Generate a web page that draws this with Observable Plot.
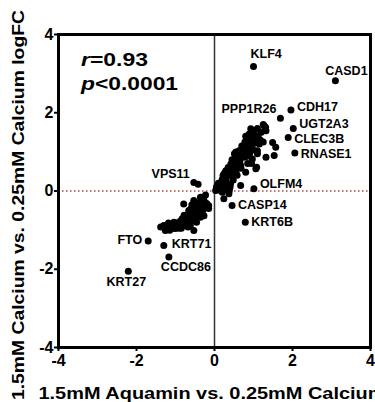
<!DOCTYPE html>
<html>
<head>
<meta charset="utf-8">
<script src="https://cdn.jsdelivr.net/npm/d3@7"></script>
<script src="https://cdn.jsdelivr.net/npm/@observablehq/plot@0.6"></script>
<style>
  html, body { margin: 0; padding: 0; background: #fff; overflow: hidden; }
  #chart svg g[aria-label="x-axis tick"],
  #chart svg g[aria-label="y-axis tick"] { stroke-width: 2; }
</style>
</head>
<body>
<div id="chart"></div>
<script>
// Labelled genes
const genes = ["KLF4","CASD1","CDH17","PPP1R26","UGT2A3","CLEC3B","RNASE1","OLFM4","VPS11","CASP14","KRT6B","FTO","KRT71","CCDC86","KRT27"];
const geneX = [1.00, 3.10, 1.96, 1.69, 2.02, 1.89, 2.06, 1.01, -0.53, 0.45, 0.79, -1.70, -1.30, -1.17, -2.21];
const geneY = [3.18, 2.82, 2.07, 1.86, 1.60, 1.37, 0.97, 0.06, 0.22, -0.37, -0.80, -1.28, -1.39, -1.69, -2.05];

// Unlabelled genes (x: Aquamin logFC, y: Calcium logFC)
const otherX = [
  -0.42,
  -0.79,-0.53,-0.36,-0.27,-0.15,-0.44,-0.27,-0.62,-0.83,-0.70,-0.92,-1.04,-1.13,-1.30,-1.38,-1.26,-1.00,-0.79,-0.53,-0.57,-0.36,-0.44,-0.23,-0.15,
  -0.60,-0.70,-0.88,-1.08,-0.95,-0.85,-0.65,-0.50,-0.40,-0.32,-0.20,-1.20,-0.75,-0.62,-0.48,-0.55,-0.72,-0.97,-1.15,-0.90,-0.58,-0.66,-0.38,-0.46,-0.78,-1.22,
  -0.30,-0.42,-0.52,-0.68,-0.88,-1.05,-1.18,-0.25,-0.58,-0.80,
  1.27,1.32,0.93,0.89,1.06,1.49,1.57,0.97,0.89,1.10,0.63,0.51,0.76,0.97,1.32,1.53,0.42,0.67,1.06,0.29,0.55,0.80,0.25,0.46,0.16,0.33,0.67,0.12,0.38,0.03,0.20,0.41,0.15,0.37,0.24,1.08,1.31,1.25,
  0.20,0.30,0.35,0.50,0.55,0.60,0.70,0.75,0.80,0.85,0.95,1.00,1.05,1.15,1.20,0.70,0.78,0.45,0.30,0.10,0.40,0.65,0.90,1.10,0.85,0.22,1.00,1.10,0.80,0.55,0.05,0.25,0.50,
  0.08,0.18,0.28,0.30,0.36,0.45,0.52,0.62,0.72,0.78,0.88,0.92,1.02,1.12,1.18,0.68,0.58,0.48,0.40,0.30,0.82,0.95,1.25,0.86,0.95
];
const otherY = [
  0.17,
  -0.33,-0.24,-0.16,-0.24,-0.45,-0.50,-0.63,-0.58,-0.71,-0.80,-0.84,-0.80,-0.88,-0.88,-0.92,-1.01,-0.96,-0.88,-1.01,-0.71,-0.67,-0.37,-0.10,-0.37,
  -0.45,-0.62,-0.77,-0.92,-0.90,-0.95,-0.78,-0.62,-0.55,-0.40,-0.32,-0.95,-0.86,-0.88,-0.45,-0.52,-0.70,-0.82,-1.00,-0.95,-0.35,-0.50,-0.28,-0.80,-0.62,-0.90,
  -0.50,-0.62,-0.75,-0.92,-0.85,-0.95,-0.82,-0.38,-0.62,-0.78,
  1.67,1.54,1.59,1.46,1.42,1.24,1.12,1.20,1.08,1.03,1.03,0.95,0.86,0.82,0.86,0.91,0.69,0.65,0.57,0.52,0.48,0.48,0.35,0.35,0.22,0.18,0.14,0.06,0.01,0.01,-0.03,0.18,0.01,-0.07,-0.20,0.61,1.63,1.70,
  0.30,0.40,0.60,0.70,0.60,0.85,0.90,1.10,1.00,1.25,1.35,1.05,1.30,1.20,1.50,1.15,1.25,0.80,0.25,0.20,0.45,0.75,0.95,0.95,0.70,0.40,1.50,1.60,1.40,1.00,0.10,0.45,0.55,
  0.15,0.12,0.32,0.50,0.52,0.60,0.82,0.95,1.02,1.20,1.15,1.45,1.22,1.40,1.30,0.58,0.40,0.28,0.10,0.05,0.88,0.70,1.25,1.38,1.55
];

const xTicks = [-4, -2, 0, 2, 4];
const yTicks = [-4, -2, 0, 2, 4];
const xTitle = "1.5mM Aquamin vs. 0.25mM Calcium";
const yTitle = "1.5mM Calcium vs. 0.25mM Calcium logFC";
const statR = "0.93";
const statP = "0.0001";

const labelled = genes.map((g, i) => ({gene: g, x: geneX[i], y: geneY[i]}));
const others = otherX.map((x, i) => ({x, y: otherY[i]}));

// label placement relative to its dot: [textAnchor, dx, dy]
const labelLayout = {
  KLF4: ["start", -3, -13], CASD1: ["middle", 11, -10], CDH17: ["start", 6, -3],
  PPP1R26: ["end", -4, -9], UGT2A3: ["start", 6, -4], CLEC3B: ["start", 6, 2],
  RNASE1: ["start", 6, 1], OLFM4: ["start", 6, -5], VPS11: ["end", -4, -8],
  CASP14: ["start", 6, 0], KRT6B: ["start", 6, 0], FTO: ["end", -6, -1],
  KRT71: ["start", 8, -1], CCDC86: ["start", -8, 10], KRT27: ["middle", -2, 11]
};

const fmt = d => (d < 0 ? "-" + (-d) : String(d));
const font = "'Liberation Sans', Arial, Helvetica, sans-serif";

const labelMarks = genes.map(g => {
  const [anchor, dx, dy] = labelLayout[g];
  return Plot.text(labelled.filter(d => d.gene === g), {
    x: "x", y: "y", text: "gene", textAnchor: anchor, dx, dy,
    fontSize: 12.5, fontWeight: "bold", fill: "black"
  });
});

const chart = Plot.plot({
  width: 375,
  height: 402,
  marginLeft: 58,
  marginRight: 5,
  marginTop: 34,
  marginBottom: 55,
  style: {fontFamily: font, fontWeight: "bold", fontSize: "16px", color: "#000", background: "#fff", overflow: "visible"},
  x: {domain: [-4, 4], ticks: xTicks, tickFormat: fmt, tickSize: 4, tickPadding: 3, label: null},
  y: {domain: [-4, 4], ticks: yTicks, tickFormat: fmt, tickSize: 4, tickPadding: 1, label: null},
  marks: [
    Plot.ruleY([0], {stroke: "#a94848", strokeWidth: 1.3, strokeDasharray: "1.5,2.5"}),
    Plot.ruleX([0], {stroke: "#333", strokeWidth: 1.5}),
    Plot.dot(others, {x: "x", y: "y", r: 3.5, fill: "black", stroke: "none"}),
    Plot.dot(labelled, {x: "x", y: "y", r: 3.5, fill: "black", stroke: "none"}),
    ...labelMarks,
    Plot.frame({stroke: "black", strokeWidth: 3}),
    Plot.text([yTitle], {frameAnchor: "left", textAnchor: "middle", lineAnchor: "middle", rotate: -90, dx: -40, dy: 14, fontSize: 17, fontWeight: "bold", fill: "black"}),
    Plot.text([xTitle], {frameAnchor: "bottom", textAnchor: "middle", lineAnchor: "middle", dx: -2.5, dy: 46, fontSize: 16, fontWeight: "bold", fill: "black"})
  ]
});

document.getElementById("chart").appendChild(chart);

const svg = d3.select(chart);
// widen the titles to the reference's heavy, wide lettering
svg.selectAll("text").filter(function () { return this.textContent === xTitle; })
  .attr("textLength", 347).attr("lengthAdjust", "spacingAndGlyphs");
svg.selectAll("text").filter(function () { return this.textContent === yTitle; })
  .attr("textLength", 390).attr("lengthAdjust", "spacingAndGlyphs");

// correlation annotation with italic symbols
const ann = svg.append("g")
  .attr("font-family", font).attr("font-weight", "bold").attr("font-size", 18.5)
  .attr("fill", "black").attr("text-anchor", "start");
const t1 = ann.append("text").attr("x", 81).attr("y", 66).attr("textLength", 67).attr("lengthAdjust", "spacingAndGlyphs");
t1.append("tspan").attr("font-style", "italic").text("r");
t1.append("tspan").text("=" + statR);
const t2 = ann.append("text").attr("x", 81).attr("y", 90).attr("textLength", 97).attr("lengthAdjust", "spacingAndGlyphs");
t2.append("tspan").attr("font-style", "italic").text("p");
t2.append("tspan").text("<" + statP);
</script>
</body>
</html>
